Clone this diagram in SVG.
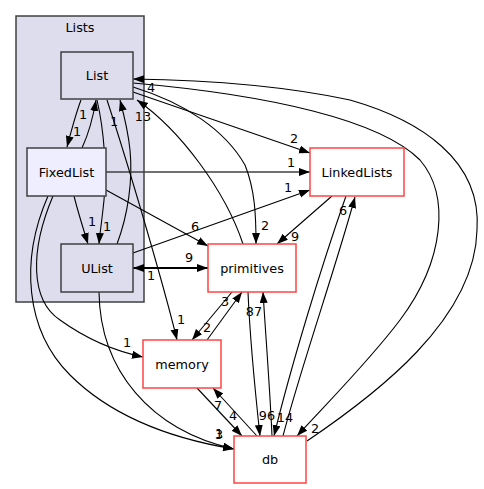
<svg xmlns="http://www.w3.org/2000/svg" width="484" height="489" viewBox="0 0 484 489">
<style>
text{font-family:"DejaVu Sans",sans-serif;font-size:12.8px;fill:#000;text-anchor:middle}
.lbl{font-size:12.8px}
.in{fill:#ddddee;stroke:#404040;stroke-width:1.5}
.fx{fill:#eeeeff;stroke:#404040;stroke-width:1.5}
.ext{fill:#ffffff;stroke:#ff4444;stroke-width:1.5}
.e{fill:none;stroke:#000;stroke-width:1.1;marker-end:url(#ah)}
</style>
<defs>
<marker id="ah" markerUnits="userSpaceOnUse" markerWidth="12" markerHeight="9" refX="11" refY="4" orient="auto-start-reverse" viewBox="0 0 12 9">
<polygon points="0,0 11,4 0,8" fill="#000"/>
</marker>
</defs>
<rect width="484" height="489" fill="#fff"/>
<g id="cluster_Lists">
<rect x="16" y="16" width="128" height="286" fill="#ddddee" stroke="#404040" stroke-width="1.5"/>
<text x="80" y="32">Lists</text>
</g>
<g id="edges">
<path class="e" d="M81,100 C76,113 72,128 67,147"/>
<text class="lbl" x="77" y="136">1</text>
<path class="e" d="M82,148 C88,135 93,118 96,100"/>
<text class="lbl" x="83" y="119">1</text>
<path class="e" d="M97,100 C104,130 107,170 104,200 C102,220 100,232 99,244"/>
<text class="lbl" x="107" y="231">1</text>
<path class="e" d="M117,244 C128,215 133,180 130,150 C128,130 124,115 120,100"/>
<text class="lbl" x="114" y="126">1</text>
<path class="e" d="M74,196 C78,212 83,228 88,244"/>
<text class="lbl" x="92" y="226">1</text>
<path class="e" d="M133,92 L310,153"/>
<text class="lbl" x="294" y="143">2</text>
<path class="e" d="M106,172 L310,172" style="stroke:#404040;stroke-width:1.6"/>
<text class="lbl" x="291" y="167">1</text>
<path class="e" d="M133,253 L310,190"/>
<text class="lbl" x="288" y="192">1</text>
<path class="e" d="M106,190 L208,246"/>
<text class="lbl" x="195" y="231">6</text>
<path class="e" d="M133,268 L208,268" style="stroke-width:2;marker-start:url(#ah)"/>
<text class="lbl" x="189" y="262">9</text>
<text class="lbl" x="151" y="280">1</text>
<path class="e" d="M133,87 C185,103 225,130 245,165 C255,190 256,215 256,244"/>
<text class="lbl" x="265" y="230">2</text>
<path class="e" d="M243,244 C225,190 180,130 137,100"/>
<text class="lbl" x="143" y="121">13</text>
<path class="e" d="M332,196 L277,244"/>
<text class="lbl" x="295" y="241">9</text>
<path class="e" d="M107,100 C130,170 165,290 177,340"/>
<text class="lbl" x="181" y="324">1</text>
<path class="e" d="M53,196 C30,250 30,300 60,320 C85,338 110,350 143,357"/>
<text class="lbl" x="127" y="347">1</text>
<path class="e" d="M232,292 L192,340"/>
<text class="lbl" x="207" y="332">2</text>
<path class="e" d="M207,340 L242,292"/>
<text class="lbl" x="225" y="306">3</text>
<path class="e" d="M48,196 C20,260 25,330 70,375 C115,420 180,440 234,449"/>
<text class="lbl" x="219" y="438">1</text>
<path class="e" d="M99,292 C100,370 150,430 234,449"/>
<text class="lbl" x="219" y="439">3</text>
<path class="e" d="M197,388 L242,436"/>
<text class="lbl" x="233" y="420">4</text>
<path class="e" d="M257,436 L213,388"/>
<text class="lbl" x="218" y="410">7</text>
<path class="e" d="M248,292 C250,340 255,390 260,436"/>
<text class="lbl" x="267" y="420">96</text>
<path class="e" d="M272,436 C270,390 266,340 263,292"/>
<text class="lbl" x="254" y="316">87</text>
<path class="e" d="M346,196 C320,270 290,370 274,436"/>
<text class="lbl" x="285" y="422">14</text>
<path class="e" d="M283,436 C300,370 335,270 355,197"/>
<text class="lbl" x="343" y="215">6</text>
<path class="e" d="M133,83 C270,95 380,120 420,160 C450,195 445,260 400,320 C370,360 330,400 297,436"/>
<text class="lbl" x="315" y="433">2</text>
<path class="e" d="M307,441 C375,395 475,320 477,230 C482,160 420,120 350,100 C280,85 200,80 133,79"/>
<text class="lbl" x="151" y="92">4</text>
</g>
<g id="node_List">
<rect class="in" x="61" y="52" width="72" height="47"/>
<text x="97" y="80">List</text>
</g>
<g id="node_FixedList">
<rect class="fx" x="27" y="148" width="79" height="48"/>
<text x="66.5" y="176.5">FixedList</text>
</g>
<g id="node_UList">
<rect class="in" x="61" y="244" width="72" height="48"/>
<text x="97" y="272.5">UList</text>
</g>
<g id="node_LinkedLists">
<rect class="ext" x="310" y="148" width="94" height="48"/>
<text x="357" y="176.5">LinkedLists</text>
</g>
<g id="node_primitives">
<rect class="ext" x="208" y="244" width="88" height="48"/>
<text x="252" y="272.5">primitives</text>
</g>
<g id="node_memory">
<rect class="ext" x="143" y="340" width="78" height="48"/>
<text x="182" y="368.5">memory</text>
</g>
<g id="node_db">
<rect class="ext" x="234" y="436" width="72" height="47"/>
<text x="270" y="464">db</text>
</g>
</svg>
